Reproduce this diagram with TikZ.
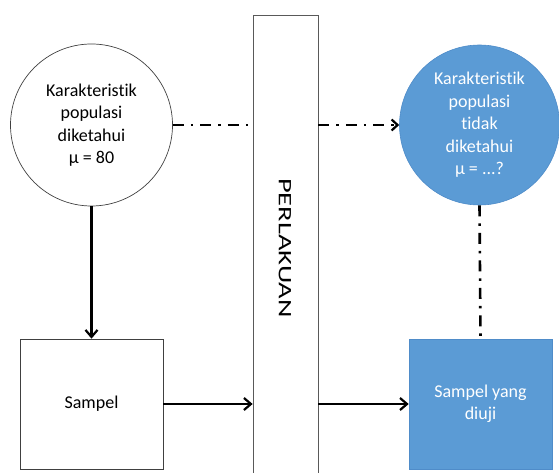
\documentclass[tikz,border=0pt]{standalone}
\usepackage{fontspec}
\setmainfont[Ligatures=NoCommon]{Carlito}
\usetikzlibrary{arrows.meta}
\definecolor{blueA}{HTML}{5B9BD5}
\definecolor{blueB}{HTML}{4F8CC9}
\tikzset{
  txt/.style={font=\fontsize{18}{22.5}\selectfont, align=center},
  wcircle/.style={circle, draw=black!75, line width=0.7pt, fill=white, minimum size=162pt, inner sep=0pt, txt},
  bcircle/.style={circle, draw=blueB, line width=0.6pt, fill=blueA, text=white, minimum size=160pt, inner sep=0pt, txt},
  wbox/.style={draw=black!75, line width=0.7pt, fill=white, minimum width=143pt, minimum height=130pt, inner sep=0pt, txt},
  bbox/.style={draw=blueB, line width=0.6pt, fill=blueA, text=white, minimum width=143pt, minimum height=130pt, inner sep=0pt, txt},
  tbar/.style={draw=black!65, line width=0.7pt, fill=white, minimum width=65pt, minimum height=470pt, inner sep=0pt},
  arr/.style={line width=2.4pt, -{Straight Barb[length=7pt,width=12pt,line width=2.2pt]}},
  dd/.style={line width=2.6pt, dash pattern=on 11pt off 7pt on 2.5pt off 7pt},
  ddarr/.style={dd, -{Straight Barb[length=6pt,width=11pt,line width=2.2pt]}}
}
\begin{document}
\begin{tikzpicture}[x=1pt,y=-1pt]
\useasboundingbox (0,0) rectangle (559,473);
\node[tbar] (bar) at (285.5,250) {};
\node[txt, rotate=-90, font=\fontsize{19}{22}\selectfont] (pl) at (285,248) {\scalebox{1.5}[1]{PERLAKUAN}};
\node[wcircle] (c1) at (91.5,125) {Karakteristik\\populasi\\diketahui\\μ = 80};
\node[bcircle] (c2) at (479.5,125) {Karakteristik\\populasi\\tidak\\diketahui\\μ = ...?};
\node[wbox] (s1) at (91.5,404) {Sampel};
\node[bbox] (s2) at (480.5,404) {Sampel yang\\diuji};
\draw[arr] (c1.south) -- (s1.north);
\draw[arr] (s1.east) -- (s1.east -| bar.west);
\draw[arr] (s2.west -| bar.east) -- (s2.west);
\draw[dd] (c1.east) -- (c1.east -| bar.west);
\draw[ddarr] (c2.west -| bar.east) -- (c2.west);
\draw[dd] (c2.south) -- (s2.north);
\end{tikzpicture}
\end{document}
